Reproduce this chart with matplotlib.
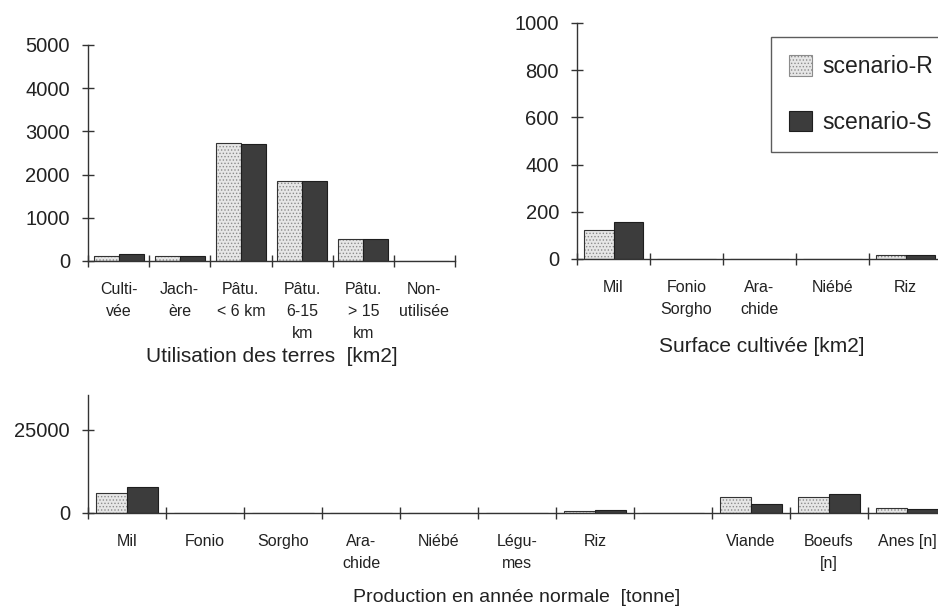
import matplotlib
matplotlib.use('Agg')
import matplotlib.pyplot as plt
import numpy as np
from matplotlib.patches import Patch

plt.rcParams['font.family'] = ['Liberation Sans', 'DejaVu Sans']
plt.rcParams['hatch.linewidth'] = 0.6

# ---- data ----
land_cats = ['Culti-\nvée', 'Jach-\nère', 'Pâtu.\n< 6 km', 'Pâtu.\n6-15\nkm', 'Pâtu.\n> 15\nkm', 'Non-\nutilisée']
land_R = [115, 110, 2740, 1850, 510, 0]
land_S = [170, 110, 2700, 1850, 515, 0]
land_yticks = [0, 1000, 2000, 3000, 4000, 5000]

surf_cats = ['Mil', 'Fonio\nSorgho', 'Ara-\nchide', 'Niébé', 'Riz']
surf_R = [124, 0, 0, 0, 15]
surf_S = [155, 0, 0, 0, 18]
surf_yticks = [0, 200, 400, 600, 800, 1000]

prod_cats = ['Mil', 'Fonio', 'Sorgho', 'Ara-\nchide', 'Niébé', 'Légu-\nmes', 'Riz', '', 'Viande', 'Boeufs\n[n]', 'Anes [n]']
prod_R = [6000, 0, 0, 0, 0, 0, 700, 0, 4800, 4800, 1500]
prod_S = [7700, 0, 0, 0, 0, 0, 800, 0, 2800, 5700, 1300]
prod_yticks = [0, 25000]

series_names = ['scenario-R', 'scenario-S']

R_FACE = '#e6e6e6'
R_HATCH = '#8c8c8c'
S_FACE = '#3c3c3c'
TXT = '#222222'
AX = '#333333'

fig = plt.figure(figsize=(9.38, 6.06), dpi=100)


def draw(ax, cats, r, s, ymax, yticks, bw):
    n = len(cats)
    x = np.arange(n) + 0.5
    ax.bar(x - bw / 2, r, bw, color=R_FACE, edgecolor=R_HATCH, hatch='.....', linewidth=0)
    ax.bar(x - bw / 2, r, bw, facecolor='none', edgecolor=AX, linewidth=0.8)
    ax.bar(x + bw / 2, s, bw, color=S_FACE, edgecolor='#1e1e1e', linewidth=0.8)
    ax.set_xlim(0, n)
    ax.set_ylim(0, ymax)
    ax.set_xticks(np.arange(n + 1))
    ax.set_xticklabels([])
    ax.set_xticks(x, minor=True)
    ax.set_xticklabels(cats, minor=True)
    ax.tick_params(axis='x', which='major', direction='inout', length=8, width=1, color=AX)
    ax.tick_params(axis='x', which='minor', length=0, pad=15, labelsize=11.5, labelcolor=TXT)
    for lbl in ax.get_xticklabels(minor=True):
        lbl.set_linespacing(1.6)
    ax.set_yticks(yticks)
    ax.tick_params(axis='y', direction='inout', length=8, width=1, pad=9, labelsize=14.5,
                   color=AX, labelcolor=TXT)
    for sp in ['top', 'right']:
        ax.spines[sp].set_visible(False)
    for sp in ['left', 'bottom']:
        ax.spines[sp].set_color(AX)
        ax.spines[sp].set_linewidth(1)
    ax.set_facecolor('none')


ax1 = fig.add_axes([88 / 938, 1 - 261 / 606, 367 / 938, 216 / 606])
draw(ax1, land_cats, land_R, land_S, 5000, land_yticks, 0.41)

ax2 = fig.add_axes([577 / 938, 1 - 259 / 606, 365 / 938, 236 / 606])
draw(ax2, surf_cats, surf_R, surf_S, 1000, surf_yticks, 0.40)

ax3 = fig.add_axes([88 / 938, 1 - 513 / 606, 858 / 938, 118 / 606])
draw(ax3, prod_cats, prod_R, prod_S, 35500, prod_yticks, 0.40)

fig.text(272 / 938, 1 - 357 / 606, 'Utilisation des terres  [km2]', ha='center', va='center',
         fontsize=15, color=TXT)
fig.text(762 / 938, 1 - 347 / 606, 'Surface cultivée [km2]', ha='center', va='center',
         fontsize=15, color=TXT)
fig.text(517 / 938, 1 - 598 / 606, 'Production en année normale  [tonne]', ha='center', va='center',
         fontsize=14, color=TXT)

handles = [Patch(facecolor=R_FACE, edgecolor=R_HATCH, hatch='.....', linewidth=0.8),
           Patch(facecolor=S_FACE, edgecolor='#1e1e1e', linewidth=0.8)]
leg = fig.legend(handles, series_names, loc='upper left',
                 bbox_to_anchor=(771 / 938, 1 - 37 / 606), borderaxespad=0, fontsize=16.5,
                 frameon=True, fancybox=False, edgecolor=AX, borderpad=0.8,
                 handlelength=1.0, handleheight=1.0, handletextpad=0.45, labelspacing=1.4)
leg.get_frame().set_linewidth(1)
for t in leg.get_texts():
    t.set_color(TXT)

fig.savefig('out.png', dpi=100)
